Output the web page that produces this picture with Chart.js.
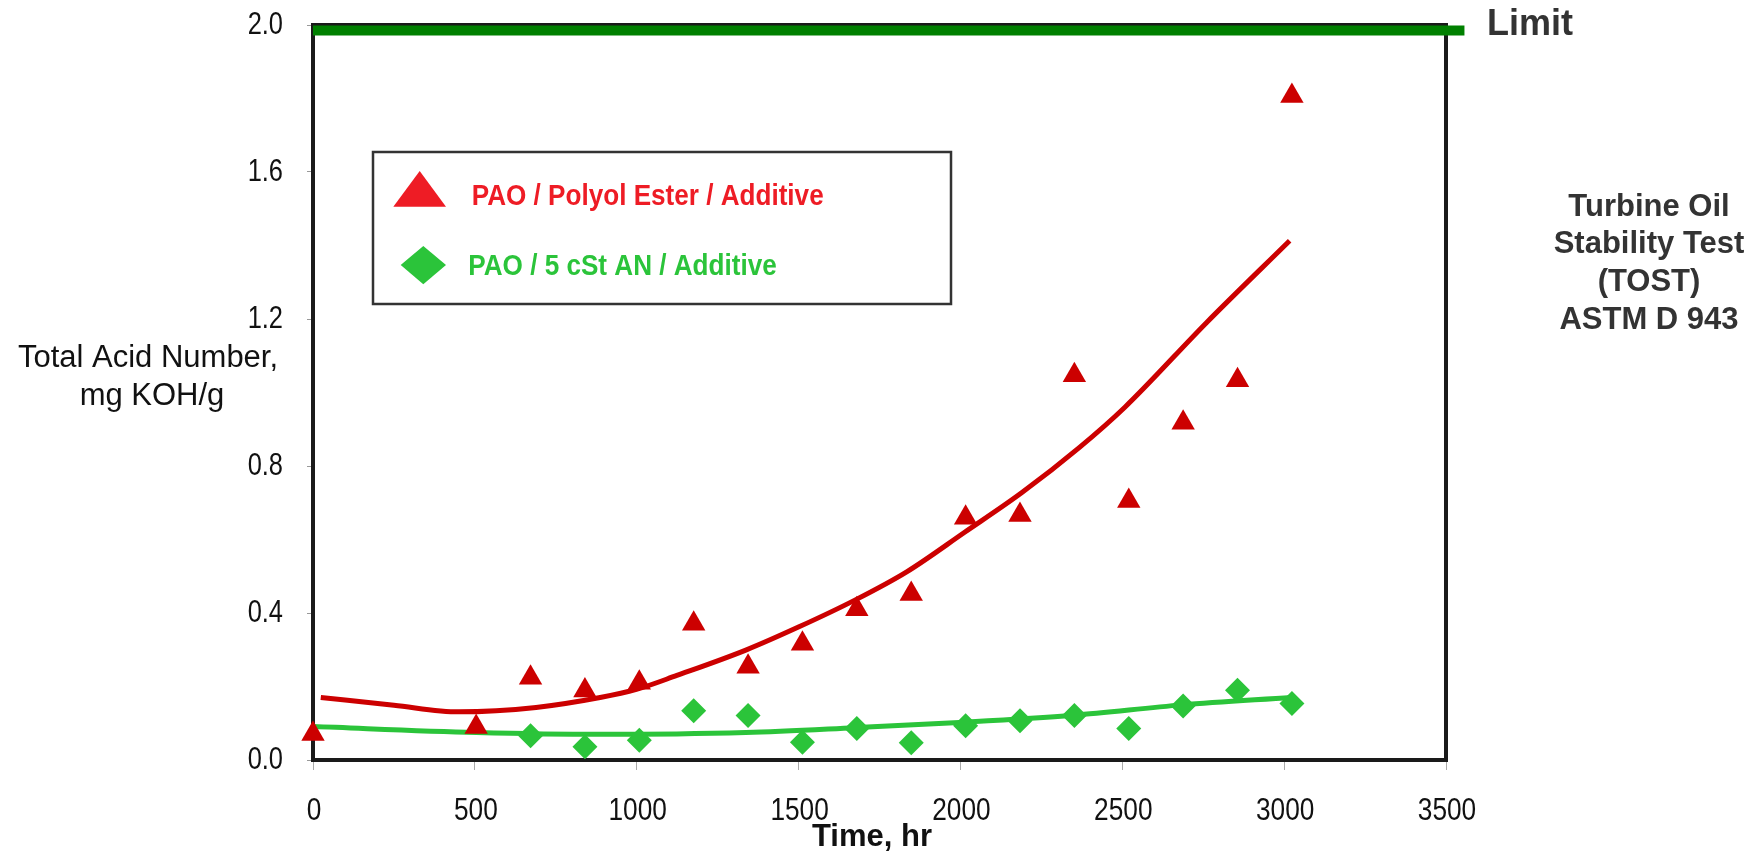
<!DOCTYPE html>
<html>
<head>
<meta charset="utf-8">
<script src="https://cdn.jsdelivr.net/npm/chart.js@4.4.1/dist/chart.umd.min.js"></script>
<style>
  html, body { margin: 0; padding: 0; background: #ffffff; }
  #wrap { width: 1762px; height: 854px; }
</style>
</head>
<body>
<div id="wrap"><canvas id="c" width="1762" height="854"></canvas></div>
<script>
// ---- data ----
const hours = [0, 504, 672, 840, 1008, 1176, 1344, 1512, 1680, 1848, 2016, 2184, 2352, 2520, 2688, 2856, 3024];
const tanPolyolEster = [0.071, 0.09, 0.224, 0.189, 0.21, 0.371, 0.254, 0.316, 0.41, 0.452, 0.659, 0.667, 1.047, 0.705, 0.918, 1.033, 1.807];
const tanAlkylNaph = [null, null, 0.066, 0.036, 0.054, 0.134, 0.121, 0.048, 0.086, 0.047, 0.093, 0.107, 0.121, 0.086, 0.147, 0.190, 0.154];

const fitPolyolHours = [24, 250, 451, 689, 887, 999, 1124, 1337, 1503, 1674, 1834, 2012, 2189, 2367, 2508, 2760, 3017];
const fitPolyolTAN = [0.170, 0.149, 0.131, 0.143, 0.170, 0.192, 0.230, 0.299, 0.363, 0.435, 0.512, 0.619, 0.727, 0.850, 0.960, 1.190, 1.413];

const fitAlkylHours = [0, 504, 887, 1337, 1674, 2012, 2349, 2685, 3021];
const fitAlkylTAN = [0.091, 0.075, 0.070, 0.075, 0.088, 0.103, 0.122, 0.150, 0.170];

const limitHours = [0, 3557];
const limitTAN = [1.985, 1.985];

const xTicks = [0, 500, 1000, 1500, 2000, 2500, 3000, 3500];
const yTicks = [0.0, 0.4, 0.8, 1.2, 1.6, 2.0];

const legendLabels = ['PAO / Polyol Ester / Additive', 'PAO / 5 cSt AN / Additive'];
const yTitleLines = ['Total Acid Number,', 'mg KOH/g'];
const xTitle = 'Time, hr';
const limitLabel = 'Limit';
const noteLines = ['Turbine Oil', 'Stability Test', '(TOST)', 'ASTM D 943'];

// ---- helpers ----
const pts = (xs, ys) => xs.map((x, i) => ({ x: x, y: ys[i] }));
const SANS = "'Liberation Sans', Arial, sans-serif";

const RED_MARK = '#cc0000';
const GREEN_MARK = '#2bc43a';

function scaledText(ctx, text, x, y, sx, align) {
  ctx.save();
  ctx.translate(x, y);
  ctx.scale(sx, 1);
  ctx.textAlign = align;
  ctx.fillText(text, 0, 0);
  ctx.restore();
}

const decorPlugin = {
  id: 'decor',
  beforeDatasetsDraw(chart) {
    const { ctx, chartArea: a } = chart;
    ctx.save();
    ctx.strokeStyle = '#1a1a1a';
    ctx.lineWidth = 4;
    ctx.strokeRect(a.left, a.top, a.right - a.left, a.bottom - a.top);
    ctx.restore();
  },
  afterDraw(chart) {
    const { ctx, chartArea: a } = chart;
    const xs = chart.scales.x, ys = chart.scales.y;
    ctx.save();
    ctx.textBaseline = 'alphabetic';

    // tick labels (condensed, Arial-Narrow-like)
    ctx.fillStyle = '#111111';
    ctx.font = '31px ' + SANS;
    yTicks.forEach(v => {
      scaledText(ctx, v.toFixed(1), a.left - 30, ys.getPixelForValue(v) + 9, 0.82, 'right');
    });
    ctx.font = '32px ' + SANS;
    xTicks.forEach(v => {
      scaledText(ctx, String(v), xs.getPixelForValue(v) + 1, a.bottom + 60, 0.82, 'center');
    });

    // x axis title
    ctx.font = 'bold 31px ' + SANS;
    ctx.textAlign = 'center';
    ctx.fillText(xTitle, 872, 846);

    // y axis title (horizontal, two lines)
    ctx.font = '31px ' + SANS;
    ctx.fillText(yTitleLines[0], 148, 367);
    ctx.fillText(yTitleLines[1], 152, 405);

    // Limit label
    ctx.fillStyle = '#333333';
    ctx.font = 'bold 36px ' + SANS;
    ctx.textAlign = 'left';
    ctx.fillText(limitLabel, 1487, 35);

    // right-hand note
    ctx.font = 'bold 31px ' + SANS;
    ctx.textAlign = 'center';
    const noteBase = [216, 253, 291, 329];
    noteLines.forEach((t, i) => ctx.fillText(t, 1649, noteBase[i]));

    // legend box
    ctx.strokeStyle = '#333333';
    ctx.lineWidth = 2.5;
    ctx.strokeRect(373, 152, 578, 152);

    // legend triangle
    ctx.fillStyle = '#ee1c25';
    ctx.beginPath();
    ctx.moveTo(419.7, 171);
    ctx.lineTo(446, 206.7);
    ctx.lineTo(393.3, 206.7);
    ctx.closePath();
    ctx.fill();

    // legend diamond
    ctx.fillStyle = '#2bc43a';
    ctx.beginPath();
    ctx.moveTo(423.3, 246);
    ctx.lineTo(446, 265);
    ctx.lineTo(423.3, 284.3);
    ctx.lineTo(400.7, 265);
    ctx.closePath();
    ctx.fill();

    // legend texts (slightly condensed bold)
    ctx.font = 'bold 29px ' + SANS;
    ctx.fillStyle = '#ee1c25';
    scaledText(ctx, legendLabels[0], 471.7, 205, 0.9, 'left');
    ctx.fillStyle = '#2bc43a';
    scaledText(ctx, legendLabels[1], 468.3, 275, 0.9, 'left');

    ctx.restore();
  }
};

const chart = new Chart(document.getElementById('c'), {
  type: 'scatter',
  data: {
    datasets: [
      {
        label: 'Limit',
        data: pts(limitHours, limitTAN),
        showLine: true,
        borderColor: '#008000',
        borderWidth: 10,
        borderCapStyle: 'butt',
        pointRadius: 0,
        clip: false,
        order: 0
      },
      {
        label: legendLabels[0],
        data: pts(hours, tanPolyolEster),
        pointStyle: 'triangle',
        pointRadius: 13.5,
        backgroundColor: RED_MARK,
        borderColor: RED_MARK,
        borderWidth: 0,
        clip: false,
        order: 1
      },
      {
        label: legendLabels[1],
        data: pts(hours, tanAlkylNaph).filter(p => p.y !== null),
        pointStyle: 'rectRot',
        pointRadius: 12.5,
        backgroundColor: GREEN_MARK,
        borderColor: GREEN_MARK,
        borderWidth: 0,
        clip: false,
        order: 1
      },
      {
        label: 'fit polyol',
        data: pts(fitPolyolHours, fitPolyolTAN),
        showLine: true,
        borderColor: RED_MARK,
        borderWidth: 5,
        cubicInterpolationMode: 'monotone',
        pointRadius: 0,
        order: 2
      },
      {
        label: 'fit AN',
        data: pts(fitAlkylHours, fitAlkylTAN),
        showLine: true,
        borderColor: GREEN_MARK,
        borderWidth: 5,
        cubicInterpolationMode: 'monotone',
        pointRadius: 0,
        order: 2
      }
    ]
  },
  options: {
    responsive: false,
    animation: false,
    devicePixelRatio: 1,
    layout: { padding: { left: 0, right: 316, top: 25, bottom: 0 } },
    plugins: {
      legend: { display: false },
      tooltip: { enabled: false },
      title: { display: false }
    },
    scales: {
      x: {
        type: 'linear',
        min: 0,
        max: 3500,
        afterBuildTicks: (s) => { s.ticks = xTicks.map(v => ({ value: v })); },
        afterFit: (s) => { s.height = 94; },
        ticks: { display: false },
        grid: { display: true, drawOnChartArea: false, drawTicks: true, tickLength: 10, tickColor: '#aaaaaa', tickWidth: 1 },
        border: { display: true, color: '#1a1a1a', width: 4 }
      },
      y: {
        type: 'linear',
        min: 0,
        max: 2,
        afterBuildTicks: (s) => { s.ticks = yTicks.map(v => ({ value: v })); },
        afterFit: (s) => { s.width = 313; },
        ticks: { display: false },
        grid: { display: true, drawOnChartArea: false, drawTicks: true, tickLength: 6, tickColor: '#999999', tickWidth: 1 },
        border: { display: true, color: '#1a1a1a', width: 4 }
      }
    }
  },
  plugins: [decorPlugin]
});
</script>
</body>
</html>
